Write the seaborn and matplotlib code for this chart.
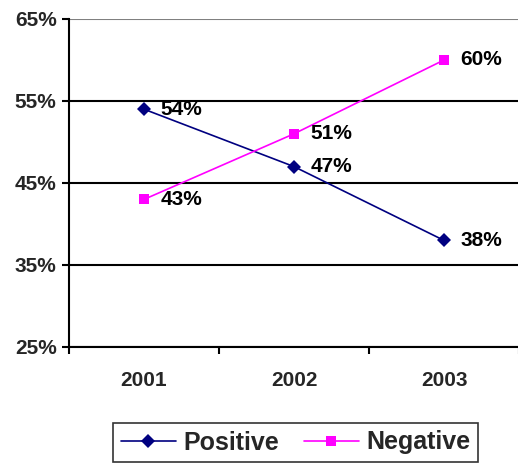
import matplotlib
matplotlib.use("Agg")
import matplotlib.pyplot as plt
import seaborn as sns
import pandas as pd

years = ["2001", "2002", "2003"]
positive = [54, 47, 38]
negative = [43, 51, 60]
y_ticks = [25, 35, 45, 55, 65]

sns.set_theme(style="white")
plt.rcParams["font.family"] = ["Liberation Sans", "DejaVu Sans"]
plt.rcParams["font.weight"] = "bold"

df = pd.DataFrame({
    "year": years * 2,
    "value": positive + negative,
    "series": ["Positive"] * 3 + ["Negative"] * 3,
})

fig = plt.figure(figsize=(5.18, 4.66), dpi=100)
ax = fig.add_axes([69 / 518, 1 - 347 / 466, 450 / 518, 328 / 466])

palette = {"Positive": "#000080", "Negative": "#FF00FF"}
markers = {"Positive": "D", "Negative": "s"}
sns.lineplot(data=df, x="year", y="value", hue="series", style="series",
             palette=palette, markers=markers, dashes=False, sort=False,
             linewidth=1.2, markersize=7.5, markeredgewidth=0, ax=ax)

# value labels to the right of each point
for series, vals in (("Positive", positive), ("Negative", negative)):
    for i, v in enumerate(vals):
        ax.annotate(f"{v}%", (i, v), xytext=(12, 0), textcoords="offset points",
                    ha="left", va="center", fontsize=15, fontweight="bold",
                    color="black")

ax.set_xlim(-0.5, 2.5)
ax.set_ylim(25, 65)
ax.set_yticks(y_ticks)
ax.set_yticklabels([f"{t}%" for t in y_ticks], fontsize=15, fontweight="bold")
ax.set_xticks([0, 1, 2])
ax.set_xticklabels(years, fontsize=15, fontweight="bold")
ax.set_xticks([-0.5, 0.5, 1.5, 2.5], minor=True)
ax.tick_params(axis="x", which="major", length=0, pad=17)
ax.tick_params(axis="x", which="minor", length=5, width=1.5, color="black",
               direction="out", bottom=True)
ax.tick_params(axis="y", length=5, width=1.5, color="black", direction="out",
               left=True, pad=4)
ax.set_xlabel("")
ax.set_ylabel("")

# horizontal gridlines: black, top one gray
ax.grid(axis="y", color="black", linewidth=1.5)
ax.grid(axis="x", visible=False)
for tick in ax.yaxis.get_major_ticks():
    if tick.get_loc() == 65:
        tick.gridline.set_color("#808080")
ax.set_axisbelow(True)

for side in ("top", "right"):
    ax.spines[side].set_visible(False)
for side in ("left", "bottom"):
    ax.spines[side].set_color("black")
    ax.spines[side].set_linewidth(1.5)

ax.get_legend().remove()
handles, labels = ax.get_legend_handles_labels()
leg = fig.legend(handles, labels, loc="upper center",
                 bbox_to_anchor=(295.5 / 518, 1 - 423 / 466), ncol=2,
                 frameon=True, fancybox=False,
                 prop={"weight": "bold", "size": 18},
                 handlelength=2.2, handletextpad=0.3, columnspacing=1.0,
                 borderpad=0.3, borderaxespad=0)
leg.get_frame().set_edgecolor("black")
leg.get_frame().set_linewidth(1.2)

fig.savefig("out.png", dpi=100)
